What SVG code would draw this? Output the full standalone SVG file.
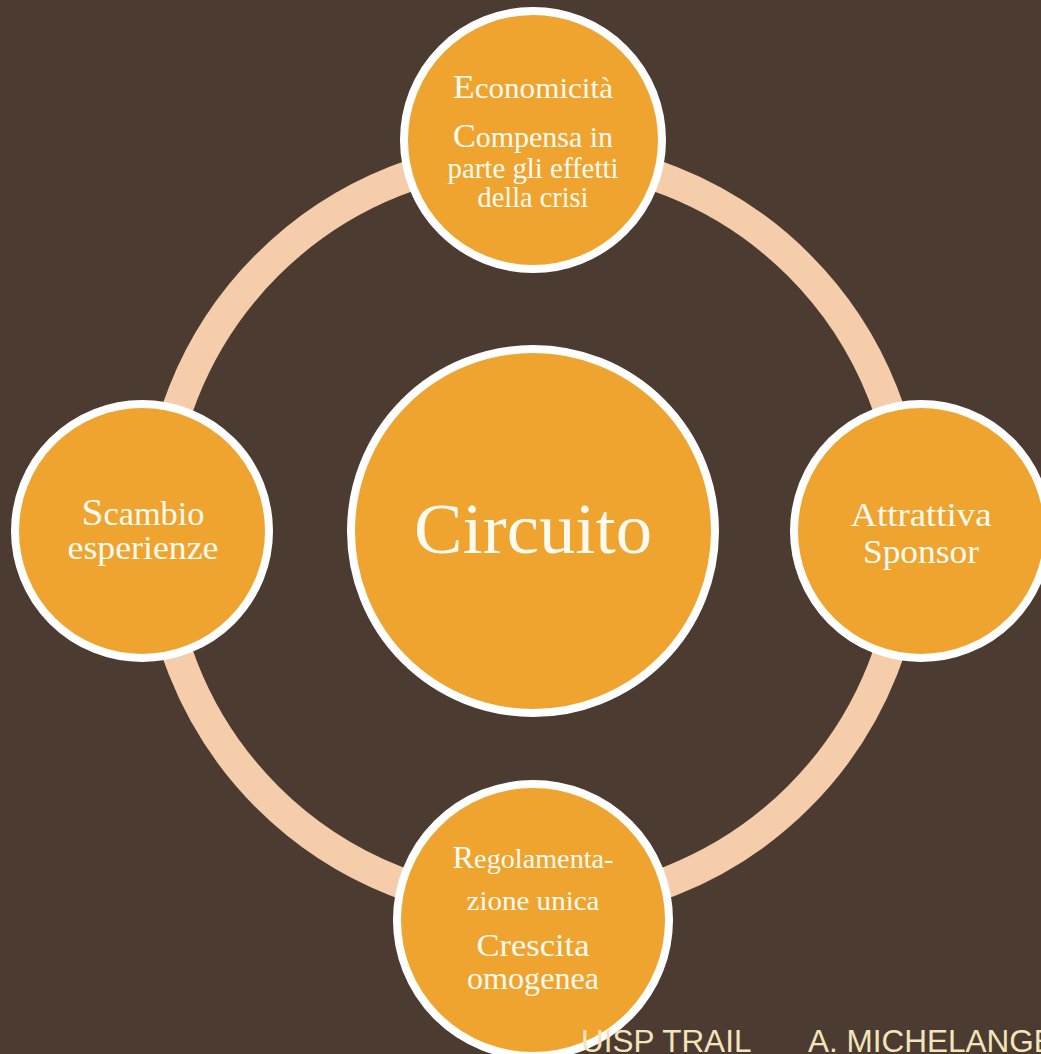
<svg xmlns="http://www.w3.org/2000/svg" width="1041" height="1054" viewBox="0 0 1041 1054">
<style>
.node{fill:#EFA430;stroke:#FFFFFF;stroke-width:8}
.t{font-family:"Liberation Serif","Times New Roman",serif;fill:#FFFBF0;text-anchor:middle}
.foot{font-family:"Liberation Sans",Arial,sans-serif;fill:#F3E4BC;font-size:31.5px}
</style>
<rect width="1041" height="1054" fill="#4B3B31"/>
<g id="connectors">
<circle cx="533" cy="531" r="376" fill="none" stroke="#F5CDAB" stroke-width="31"/>
</g>
<g id="node-center">
<circle class="node" cx="533" cy="531" r="182"/>
<text class="t" x="533" y="553" font-size="72" textLength="238" lengthAdjust="spacingAndGlyphs">Circuito</text>
</g>
<g id="node-top">
<circle class="node" cx="533" cy="140" r="129"/>
<text class="t" x="533" y="98" font-size="29" textLength="160" lengthAdjust="spacingAndGlyphs"><tspan font-size="33">E</tspan>conomicità</text>
<text class="t" x="533" y="147" font-size="29" textLength="160" lengthAdjust="spacingAndGlyphs"><tspan font-size="33">C</tspan>ompensa in</text>
<text class="t" x="533" y="178" font-size="29" textLength="171" lengthAdjust="spacingAndGlyphs">parte gli effetti</text>
<text class="t" x="533" y="207" font-size="29" textLength="111" lengthAdjust="spacingAndGlyphs">della crisi</text>
</g>
<g id="node-left">
<circle class="node" cx="142" cy="531" r="127"/>
<text class="t" x="143" y="525" font-size="33" textLength="123" lengthAdjust="spacingAndGlyphs"><tspan font-size="38">S</tspan>cambio</text>
<text class="t" x="143" y="559" font-size="33" textLength="151" lengthAdjust="spacingAndGlyphs">esperienze</text>
</g>
<g id="node-right">
<circle class="node" cx="921" cy="531" r="127"/>
<text class="t" x="921" y="526" font-size="34" textLength="141" lengthAdjust="spacingAndGlyphs">Attrattiva</text>
<text class="t" x="921" y="563" font-size="34" textLength="116" lengthAdjust="spacingAndGlyphs">Sponsor</text>
</g>
<g id="node-bottom">
<circle class="node" cx="533" cy="920" r="136"/>
<text class="t" x="533" y="868" font-size="27" textLength="161" lengthAdjust="spacingAndGlyphs"><tspan font-size="31">R</tspan>egolamenta-</text>
<text class="t" x="533" y="910" font-size="27" textLength="133" lengthAdjust="spacingAndGlyphs">zione unica</text>
<text class="t" x="533" y="956" font-size="32" textLength="113" lengthAdjust="spacingAndGlyphs">Crescita</text>
<text class="t" x="533" y="989" font-size="32" textLength="132" lengthAdjust="spacingAndGlyphs">omogenea</text>
</g>
<g id="footer">
<text class="foot" x="581" y="1052">UISP TRAIL</text>
<text class="foot" x="808" y="1052">A. MICHELANGELI</text>
</g>
</svg>
